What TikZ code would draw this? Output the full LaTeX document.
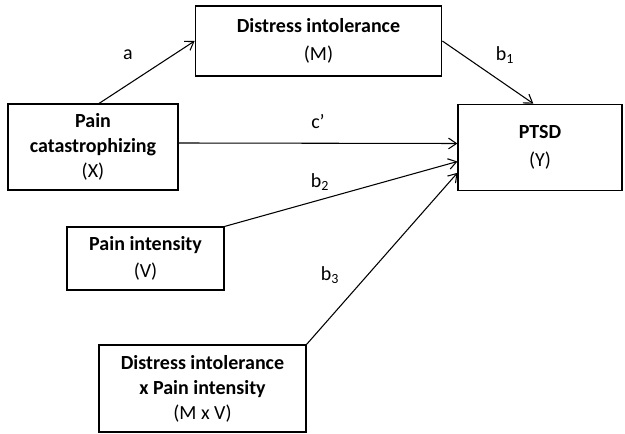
\documentclass[tikz,border=0pt]{standalone}
\usepackage{fontspec}
\setmainfont{Carlito}
\usetikzlibrary{arrows.meta, positioning}

\begin{document}
\begin{tikzpicture}[x=0.75pt, y=-0.75pt,
                >= {Straight Barb[length=6pt, width=8pt]},
every node/.style = {font=\fontsize{15}{18.75}\selectfont},
        box/.style = {rectangle, draw, line width=0.8pt, align=center, inner sep=0pt},
        lbl/.style = {inner sep=0pt},
        arr/.style = {->, line width=0.8pt}
                        ]
\useasboundingbox (0,0) rectangle (625,434);
\node (M)  [box, minimum width=185pt, minimum height=52.5pt] at (318.5,41)
           {\textbf{Distress intolerance}\\[2pt] (M)};
\node (X)  [box, minimum width=127.5pt, minimum height=64.5pt] at (93,147)
           {\textbf{Pain}\\ \textbf{catastrophizing}\\ (X)};
\node (Y)  [box, minimum width=123pt, minimum height=65pt] at (540,147.5)
           {\textbf{PTSD}\\[2pt] (Y)};
\node (V)  [box, minimum width=117.75pt, minimum height=47.25pt] at (145.5,258.5)
           {\textbf{Pain intensity}\\[1pt] (V)};
\node (MV) [box, minimum width=155.25pt, minimum height=65.25pt] at (202.5,388.5)
           {\textbf{Distress intolerance}\\ \textbf{x Pain intensity}\\ (M x V)};
% path labels
\node (la)  [lbl] at (128,55)  {a};
\node (lb1) [lbl] at (505,55)  {b\textsubscript{1}};
\node (lc)  [lbl] at (318,122) {c’};
\node (lb2) [lbl] at (320,182) {b\textsubscript{2}};
\node (lb3) [lbl] at (330,275) {b\textsubscript{3}};
\draw[arr] ([xshift=4.5pt]X.north) to (M.west);
\draw[arr] (M.east) to ([xshift=-5pt]Y.north);
\draw[arr] ([yshift=3pt]X.east) to ([yshift=3pt]Y.west);
\draw[arr] (V.north east) to ([yshift=-10.5pt]Y.west);
\draw[arr] (MV.north east) to ([yshift=-19pt]Y.west);
\end{tikzpicture}
\end{document}
